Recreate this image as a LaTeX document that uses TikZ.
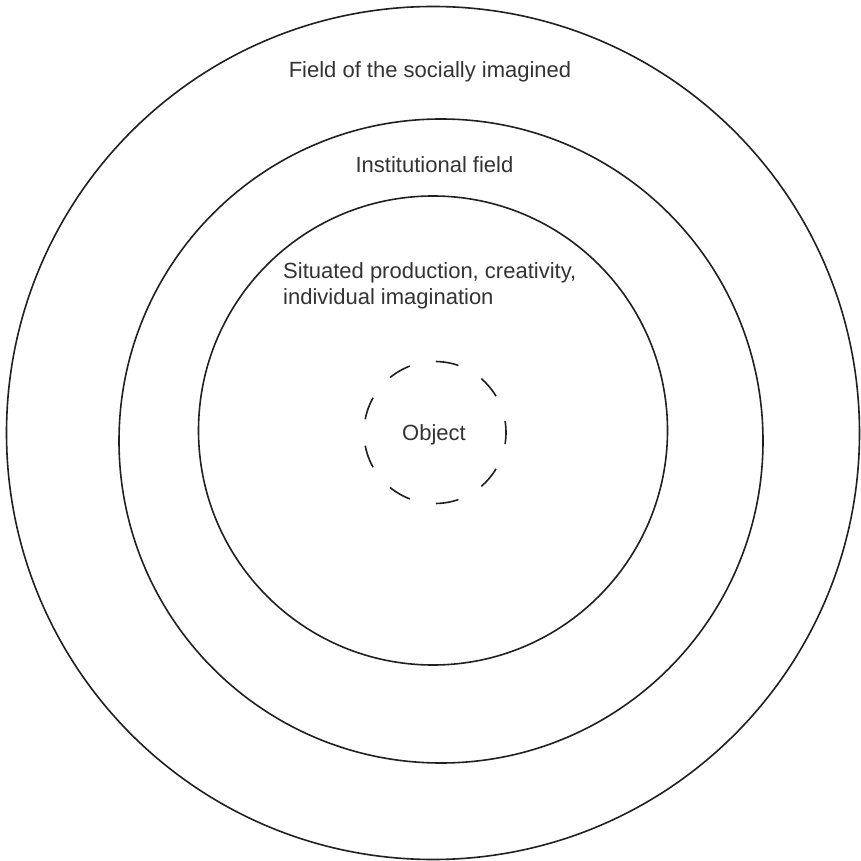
\documentclass[tikz,border=0pt]{standalone}
\usepackage{fontspec}
\setmainfont{Liberation Sans}
\definecolor{ink}{HTML}{231F20}
\definecolor{txt}{HTML}{333333}
\begin{document}
\begin{tikzpicture}[x=1pt,y=1pt,
  ring/.style={draw=ink,line width=1.6pt},
  dashring/.style={draw=ink,line width=1.6pt,dash pattern=on 23pt off 26.57pt,dash phase=11.5pt},
  lbl/.style={text=txt,font=\fontsize{22}{26}\selectfont,inner sep=0pt}]
\useasboundingbox (0,0) rectangle (861,860);
\draw[ring] (433,427) circle (426.5);
\draw[ring] (441,419) circle (322);
\draw[ring] (433,429.5) circle (234.5);
\draw[dashring] (435,427.5) circle (71);
\node[lbl,anchor=base] (outer) at (430,782) {Field of the socially imagined};
\node[lbl,anchor=base] (inst) at (434.5,687) {Institutional field};
\node[lbl,anchor=base west,align=left] (sit) at (283,555) {Situated production, creativity,\\individual imagination};
\node[lbl,anchor=base] (obj) at (434,419) {Object};
\end{tikzpicture}
\end{document}
